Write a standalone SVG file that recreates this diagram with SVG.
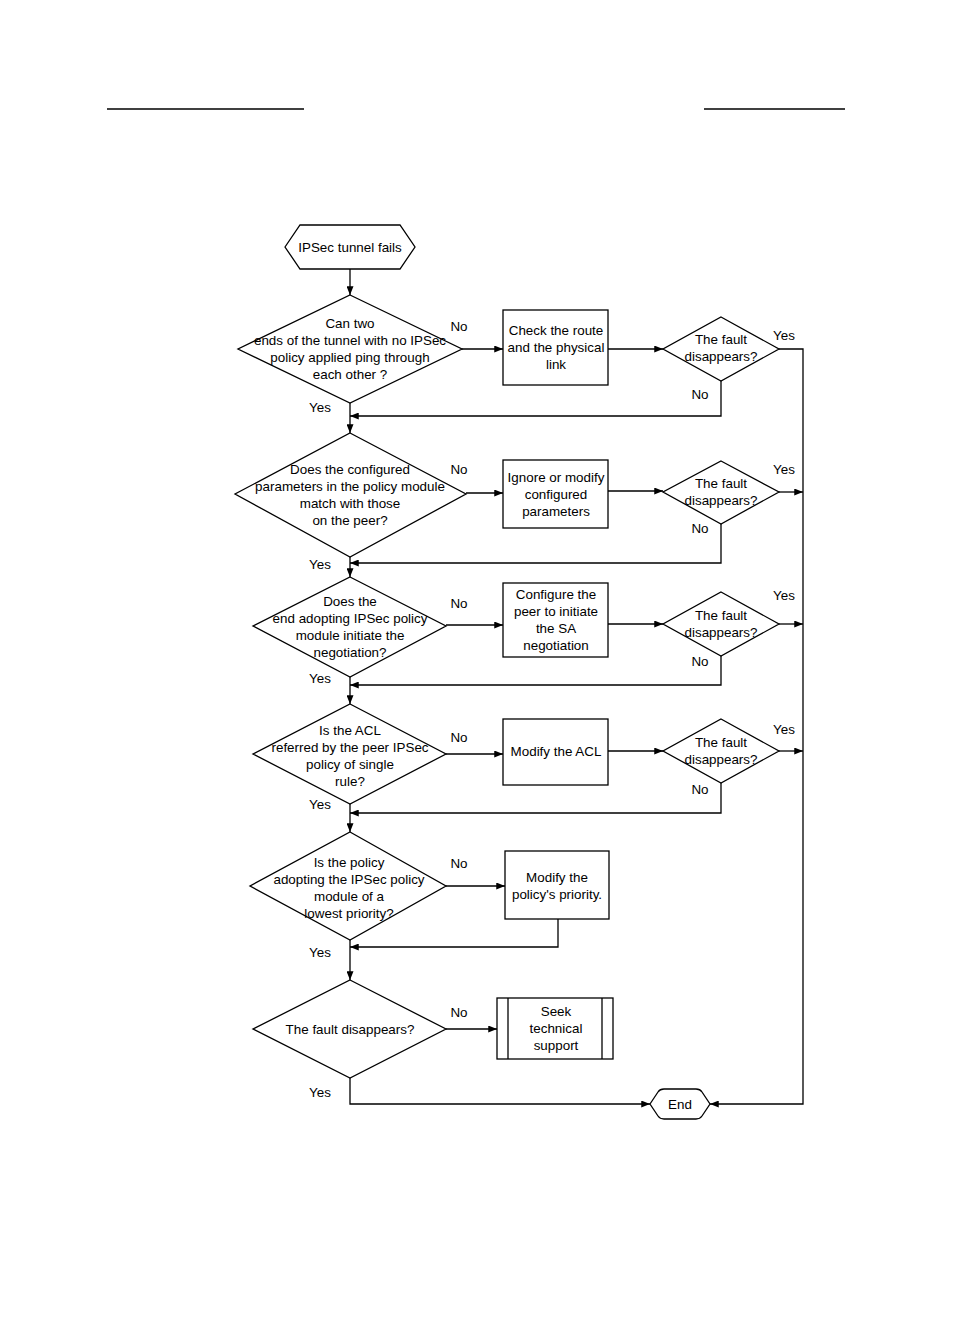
<svg xmlns="http://www.w3.org/2000/svg" width="954" height="1323" viewBox="0 0 954 1323">
<style>
.s{fill:#fff;stroke:#000;stroke-width:1.3}
.c{fill:none;stroke:#000;stroke-width:1.3}
text{font-family:"Liberation Sans",Arial,sans-serif;font-size:13.4px;fill:#000}
.m{text-anchor:middle}
</style>
<defs>
<marker id="a" viewBox="0 0 10 8" refX="10" refY="4" markerWidth="10" markerHeight="7" markerUnits="userSpaceOnUse" orient="auto">
<path d="M0,0 L10,4 L0,8 Z" fill="#000"/>
</marker>
</defs>
<rect width="954" height="1323" fill="#fff"/>
<g id="header">
<line x1="107" y1="109" x2="304" y2="109" class="c"/>
<line x1="704" y1="109" x2="845" y2="109" class="c"/>
</g>
<g id="connectors">
<line x1="350" y1="269" x2="350" y2="295" class="c" marker-end="url(#a)"/>
<line x1="462" y1="349" x2="503" y2="349" class="c" marker-end="url(#a)"/>
<line x1="608" y1="349" x2="663" y2="349" class="c" marker-end="url(#a)"/>
<polyline points="779,349 803,349 803,1104 710,1104" class="c" marker-end="url(#a)"/>
<polyline points="721,381 721,416 350,416" class="c" marker-end="url(#a)"/>
<line x1="350" y1="403" x2="350" y2="433" class="c" marker-end="url(#a)"/>
<line x1="466" y1="493" x2="503" y2="493" class="c" marker-end="url(#a)"/>
<line x1="608" y1="491" x2="663" y2="491" class="c" marker-end="url(#a)"/>
<line x1="779" y1="492" x2="803" y2="492" class="c" marker-end="url(#a)"/>
<polyline points="721,524 721,563 350,563" class="c" marker-end="url(#a)"/>
<line x1="350" y1="557" x2="350" y2="577" class="c" marker-end="url(#a)"/>
<line x1="446" y1="625" x2="503" y2="625" class="c" marker-end="url(#a)"/>
<line x1="608" y1="624" x2="663" y2="624" class="c" marker-end="url(#a)"/>
<line x1="779" y1="624" x2="803" y2="624" class="c" marker-end="url(#a)"/>
<polyline points="721,656 721,685 350,685" class="c" marker-end="url(#a)"/>
<line x1="350" y1="677" x2="350" y2="704" class="c" marker-end="url(#a)"/>
<line x1="446" y1="754" x2="503" y2="754" class="c" marker-end="url(#a)"/>
<line x1="608" y1="751" x2="663" y2="751" class="c" marker-end="url(#a)"/>
<line x1="779" y1="751" x2="803" y2="751" class="c" marker-end="url(#a)"/>
<polyline points="721,783 721,813 350,813" class="c" marker-end="url(#a)"/>
<line x1="350" y1="804" x2="350" y2="832" class="c" marker-end="url(#a)"/>
<line x1="446" y1="886" x2="505" y2="886" class="c" marker-end="url(#a)"/>
<polyline points="558,919 558,947 350,947" class="c" marker-end="url(#a)"/>
<line x1="350" y1="940" x2="350" y2="980" class="c" marker-end="url(#a)"/>
<line x1="446" y1="1029" x2="497" y2="1029" class="c" marker-end="url(#a)"/>
<polyline points="350,1078 350,1104 650,1104" class="c" marker-end="url(#a)"/>
<text x="459" y="331" class="m">No</text>
<text x="784" y="340" class="m">Yes</text>
<text x="700" y="399" class="m">No</text>
<text x="320" y="412" class="m">Yes</text>
<text x="459" y="474" class="m">No</text>
<text x="784" y="474" class="m">Yes</text>
<text x="700" y="533" class="m">No</text>
<text x="320" y="569" class="m">Yes</text>
<text x="459" y="608" class="m">No</text>
<text x="784" y="600" class="m">Yes</text>
<text x="700" y="666" class="m">No</text>
<text x="320" y="683" class="m">Yes</text>
<text x="459" y="742" class="m">No</text>
<text x="784" y="734" class="m">Yes</text>
<text x="700" y="794" class="m">No</text>
<text x="320" y="809" class="m">Yes</text>
<text x="459" y="868" class="m">No</text>
<text x="320" y="957" class="m">Yes</text>
<text x="459" y="1017" class="m">No</text>
<text x="320" y="1097" class="m">Yes</text>
</g>
<g id="start">
<polygon points="285,247 300,225 400,225 415,247 400,269 300,269" class="s"/>
<text x="350" y="252" class="m">IPSec tunnel fails</text>
</g>
<g id="d1">
<polygon points="350,295 462,349 350,403 238,349" class="s"/>
<text x="350" y="328" class="m">Can two</text>
<text x="350" y="345" class="m">ends of the tunnel with no IPSec</text>
<text x="350" y="362" class="m">policy applied ping through</text>
<text x="350" y="379" class="m">each other ?</text>
</g>
<g id="b1">
<rect x="503" y="310" width="105" height="75" class="s"/>
<text x="556" y="335" class="m">Check the route</text>
<text x="556" y="352" class="m">and the physical</text>
<text x="556" y="369" class="m">link</text>
</g>
<g id="r1">
<polygon points="721,317 779,349 721,381 663,349" class="s"/>
<text x="721" y="344" class="m">The fault</text>
<text x="721" y="361" class="m">disappears?</text>
</g>
<g id="d2">
<polygon points="350,433 466,494 350,557 235,494" class="s"/>
<text x="350" y="474" class="m">Does the configured</text>
<text x="350" y="491" class="m">parameters in the policy module</text>
<text x="350" y="508" class="m">match with those</text>
<text x="350" y="525" class="m">on the peer?</text>
</g>
<g id="b2">
<rect x="503" y="460" width="105" height="68" class="s"/>
<text x="556" y="482" class="m">Ignore or modify</text>
<text x="556" y="499" class="m">configured</text>
<text x="556" y="516" class="m">parameters</text>
</g>
<g id="r2">
<polygon points="721,461 779,492 721,524 663,492" class="s"/>
<text x="721" y="488" class="m">The fault</text>
<text x="721" y="505" class="m">disappears?</text>
</g>
<g id="d3">
<polygon points="350,577 446,626 350,677 253,626" class="s"/>
<text x="350" y="606" class="m">Does the</text>
<text x="350" y="623" class="m">end adopting IPSec policy</text>
<text x="350" y="640" class="m">module initiate the</text>
<text x="350" y="657" class="m">negotiation?</text>
</g>
<g id="b3">
<rect x="503" y="583" width="105" height="74" class="s"/>
<text x="556" y="599" class="m">Configure the</text>
<text x="556" y="616" class="m">peer to initiate</text>
<text x="556" y="633" class="m">the SA</text>
<text x="556" y="650" class="m">negotiation</text>
</g>
<g id="r3">
<polygon points="721,592 779,624 721,656 663,624" class="s"/>
<text x="721" y="620" class="m">The fault</text>
<text x="721" y="637" class="m">disappears?</text>
</g>
<g id="d4">
<polygon points="350,704 446,754 350,804 253,754" class="s"/>
<text x="350" y="735" class="m">Is the ACL</text>
<text x="350" y="752" class="m">referred by the peer IPSec</text>
<text x="350" y="769" class="m">policy of single</text>
<text x="350" y="786" class="m">rule?</text>
</g>
<g id="b4">
<rect x="503" y="719" width="105" height="66" class="s"/>
<text x="556" y="756" class="m">Modify the ACL</text>
</g>
<g id="r4">
<polygon points="721,719 779,751 721,783 663,751" class="s"/>
<text x="721" y="747" class="m">The fault</text>
<text x="721" y="764" class="m">disappears?</text>
</g>
<g id="d5">
<polygon points="350,832 446,886 350,940 250,886" class="s"/>
<text x="349" y="867" class="m">Is the policy</text>
<text x="349" y="884" class="m">adopting the IPSec policy</text>
<text x="349" y="901" class="m">module of a</text>
<text x="349" y="918" class="m">lowest priority?</text>
</g>
<g id="b5">
<rect x="505" y="851" width="104" height="68" class="s"/>
<text x="557" y="882" class="m">Modify the</text>
<text x="557" y="899" class="m">policy's priority.</text>
</g>
<g id="d6">
<polygon points="350,980 446,1029 350,1078 253,1029" class="s"/>
<text x="350" y="1034" class="m">The fault disappears?</text>
</g>
<g id="b6">
<rect x="497" y="998" width="116" height="61" class="s"/>
<line x1="508" y1="998" x2="508" y2="1059" class="c"/>
<line x1="602" y1="998" x2="602" y2="1059" class="c"/>
<text x="556" y="1016" class="m">Seek</text>
<text x="556" y="1033" class="m">technical</text>
<text x="556" y="1050" class="m">support</text>
</g>
<g id="end">
<path d="M650,1104 L658,1092 Q660,1089 664,1089 L696,1089 Q700,1089 702,1092 L710,1104 L702,1116 Q700,1119 696,1119 L664,1119 Q660,1119 658,1116 Z" class="s"/>
<text x="680" y="1109" class="m">End</text>
</g>
</svg>
